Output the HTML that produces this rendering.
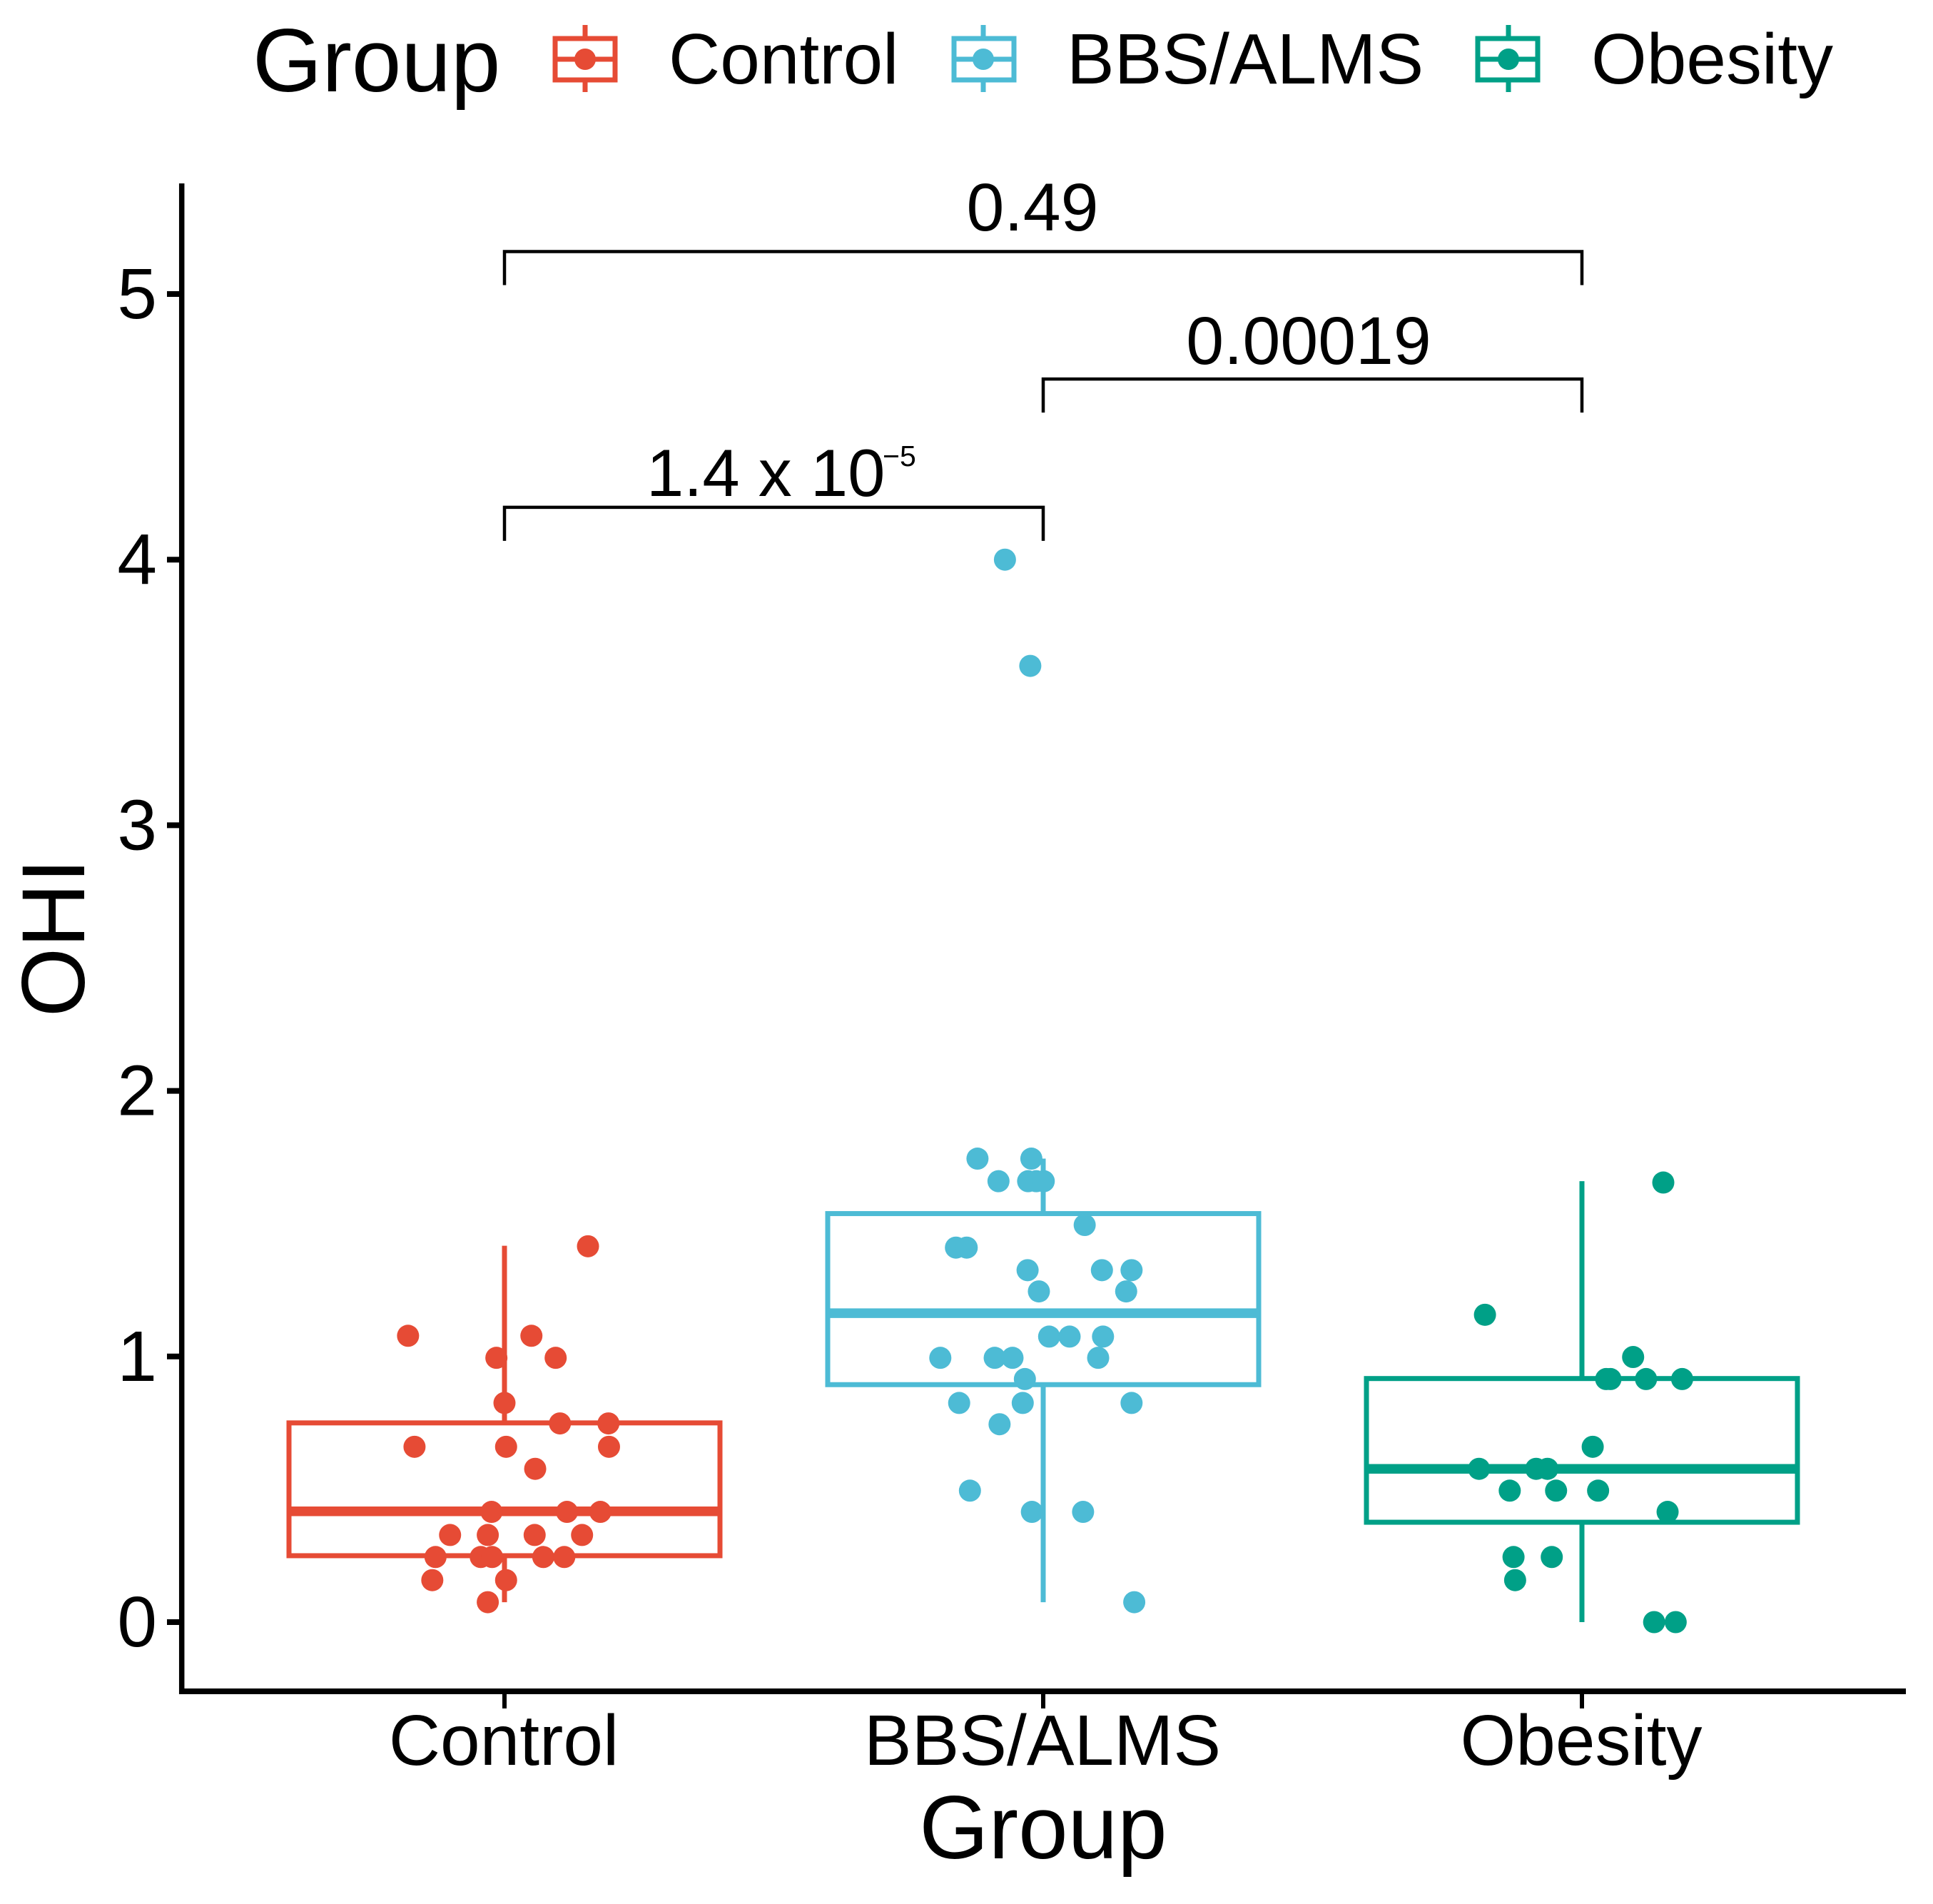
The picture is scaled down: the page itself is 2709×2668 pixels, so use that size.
<!DOCTYPE html>
<html>
<head>
<meta charset="utf-8">
<style>
html,body{margin:0;padding:0;background:#fff;}
svg{display:block;}
text{font-family:"Liberation Sans",Arial,sans-serif;fill:#000;}
</style>
</head>
<body>
<svg id="chart" xmlns="http://www.w3.org/2000/svg" width="2709" height="2668" viewBox="0 0 2709 2668">
  <rect x="0" y="0" width="2709" height="2668" fill="#fff"/>
  <g id="plot"></g>
  <line x1="254.7" y1="257" x2="254.7" y2="2374" stroke="#000" stroke-width="7.5"/>
  <line x1="251" y1="2370" x2="2671" y2="2370" stroke="#000" stroke-width="8"/>
  <g id="axes"></g>
  <text x="1462" y="2604" font-size="125" text-anchor="middle">Group</text>
  <text transform="translate(118,1314) rotate(-90)" font-size="125" text-anchor="middle">OHI</text>
  <g>
    <text x="354" y="128" font-size="125">Group</text>
    <g stroke="#E64B35" fill="none" stroke-width="7">
      <line x1="820" y1="35" x2="820" y2="54"/><line x1="820" y1="112" x2="820" y2="129"/>
      <rect x="778" y="54" width="84" height="58"/><line x1="778" y1="83" x2="862" y2="83"/>
      <circle cx="820" cy="83" r="15" fill="#E64B35" stroke="none"/>
    </g>
    <text x="937" y="117" font-size="100">Control</text>
    <g stroke="#4DBBD5" fill="none" stroke-width="7">
      <line x1="1378" y1="35" x2="1378" y2="54"/><line x1="1378" y1="112" x2="1378" y2="129"/>
      <rect x="1337" y="54" width="84" height="58"/><line x1="1337" y1="83" x2="1421" y2="83"/>
      <circle cx="1378" cy="83" r="15" fill="#4DBBD5" stroke="none"/>
    </g>
    <text x="1495" y="117" font-size="100">BBS/ALMS</text>
    <g stroke="#00A087" fill="none" stroke-width="7">
      <line x1="2114" y1="35" x2="2114" y2="54"/><line x1="2114" y1="112" x2="2114" y2="129"/>
      <rect x="2071" y="54" width="84" height="58"/><line x1="2071" y1="83" x2="2155" y2="83"/>
      <circle cx="2114" cy="83" r="15" fill="#00A087" stroke="none"/>
    </g>
    <text x="2230" y="117" font-size="100">Obesity</text>
  </g>
  <g>
    <text x="906" y="695" font-size="94">1.4 x 10</text>
    <text x="1237" y="653" font-size="41">−5</text>
  </g>
  <text x="1834" y="510" font-size="95" text-anchor="middle">0.00019</text>
  <text x="1447" y="323" font-size="95" text-anchor="middle">0.49</text>
</svg>
<script>
const categories = ['Control', 'BBS/ALMS', 'Obesity'];
const seriesColors = ['#E64B35', '#4DBBD5', '#00A087'];
const yTickValues = [0, 1, 2, 3, 4, 5];
const yTickLabels = ['0', '1', '2', '3', '4', '5'];

// Box statistics per group, value units
const q1Values = [0.25, 0.894, 0.376];
const medianValues = [0.417, 1.163, 0.577];
const q3Values = [0.75, 1.538, 0.917];
const whiskerLow = [0.075, 0.075, 0];
const whiskerHigh = [1.417, 1.745, 1.66];

// Points: OHI value and horizontal jitter in category units
const controlValues = [1.415,1.078,1.078,0.995,0.995,0.825,0.748,0.748,0.66,0.66,0.66,0.577,0.415,0.415,0.415,0.328,0.328,0.328,0.328,0.245,0.245,0.245,0.245,0.245,0.158,0.158,0.075];
const controlJitter = [0.155,-0.179,0.05,-0.015,0.095,0,0.103,0.193,-0.167,0.003,0.194,0.057,-0.024,0.116,0.178,-0.101,-0.031,0.056,0.144,-0.128,-0.044,-0.023,0.072,0.111,-0.134,0.003,-0.031];
const bbsValues = [4,3.6,1.745,1.745,1.66,1.66,1.66,1.66,1.495,1.41,1.41,1.325,1.325,1.325,1.245,1.245,1.075,1.075,1.075,0.995,0.995,0.995,0.995,0.915,0.825,0.825,0.825,0.745,0.495,0.415,0.415,0.075];
const bbsJitter = [-0.071,-0.024,-0.122,-0.022,-0.083,-0.028,-0.013,0.001,0.077,-0.162,-0.142,-0.029,0.109,0.164,-0.008,0.154,0.011,0.049,0.111,-0.191,-0.09,-0.057,0.102,-0.034,-0.156,-0.038,0.164,-0.081,-0.136,-0.021,0.074,0.169];
const obesityValues = [1.655,1.157,0.998,0.915,0.915,0.915,0.915,0.66,0.577,0.577,0.577,0.495,0.495,0.495,0.415,0.245,0.245,0.158,0,0];
const obesityJitter = [0.151,-0.18,0.095,0.045,0.053,0.119,0.186,0.02,-0.191,-0.085,-0.064,-0.134,-0.048,0.03,0.159,-0.127,-0.056,-0.124,0.134,0.174];

const pointValues = [controlValues, bbsValues, obesityValues];
const pointJitter = [controlJitter, bbsJitter, obesityJitter];

// Significance brackets: category from/to, height in OHI units
const bracketFrom = [0, 1, 0];
const bracketTo = [1, 2, 2];
const bracketLevel = [4.197, 4.68, 5.16];

const NS = 'http://www.w3.org/2000/svg';
const boxWidth = 0.8;
function xScale(c) { return 707 + 755 * c; }
function yScale(v) { return 2273 - 372.2 * v; }
function make(tag, attrs, parent) {
  const el = document.createElementNS(NS, tag);
  for (const k in attrs) el.setAttribute(k, attrs[k]);
  parent.appendChild(el);
  return el;
}

const plot = document.getElementById('plot');
const axes = document.getElementById('axes');

categories.forEach(function (cat, i) {
  const color = seriesColors[i];
  const slug = cat.toLowerCase().replace('/', '-');
  const g = make('g', { stroke: color, fill: 'none' }, plot);
  
  
  const cx = xScale(i);
  const left = xScale(i - boxWidth / 2);
  const right = xScale(i + boxWidth / 2);

  const wHigh = make('line', { x1: cx, x2: cx, y1: yScale(q3Values[i]), y2: yScale(whiskerHigh[i]), 'stroke-width': 7 }, g);
  
  
  const wLow = make('line', { x1: cx, x2: cx, y1: yScale(q1Values[i]), y2: yScale(whiskerLow[i]), 'stroke-width': 7 }, g);
  
  
  const box = make('rect', { x: left, y: yScale(q3Values[i]), width: right - left, height: yScale(q1Values[i]) - yScale(q3Values[i]), 'stroke-width': 7 }, g);
  
  
  const med = make('line', { x1: left, x2: right, y1: yScale(medianValues[i]), y2: yScale(medianValues[i]), 'stroke-width': 13.5 }, g);
  
  

  pointValues[i].forEach(function (v, j) {
    const p = make('circle', { cx: xScale(i + pointJitter[i][j]), cy: yScale(v), r: 15.5, fill: color, stroke: 'none' }, g);
    
    
  });

  const tick = make('line', { x1: cx, x2: cx, y1: 2370, y2: 2394, stroke: '#000', 'stroke-width': 6 }, axes);
  
  
  const lab = make('text', { x: cx - 1, y: 2473, 'font-size': 100, 'text-anchor': 'middle' }, axes);
  lab.textContent = cat;
  
  
});

yTickValues.forEach(function (v, i) {
  const y = yScale(v);
  const tick = make('line', { x1: 234, x2: 255, y1: y, y2: y, stroke: '#000', 'stroke-width': 8 }, axes);
  
  
  const lab = make('text', { x: 220, y: y + 34, 'font-size': 100, 'text-anchor': 'end' }, axes);
  lab.textContent = yTickLabels[i];
  
  
});

bracketLevel.forEach(function (lvl, i) {
  const a = xScale(bracketFrom[i]);
  const b = xScale(bracketTo[i]);
  const y = yScale(lvl);
  const br = make('path', { d: 'M' + a + ' ' + (y + 47) + 'V' + y + 'H' + b + 'V' + (y + 47), fill: 'none', stroke: '#000', 'stroke-width': 4.5 }, plot);
  
  
});
</script>
</body>
</html>
